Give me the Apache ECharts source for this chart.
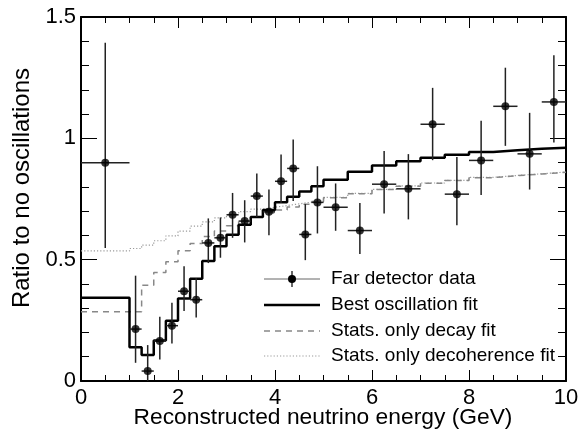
<!DOCTYPE html>
<html>
<head>
<meta charset="utf-8">
<script src="https://cdn.jsdelivr.net/npm/echarts@6/dist/echarts.min.js"></script>
<style>
html,body{margin:0;padding:0;background:#fff;}
#chart{width:578px;height:432px;}
</style>
</head>
<body>
<div id="chart"></div>
<script>
// ---- Far detector data (bin centers, bin edges, values, error bounds) ----
const dataX    = [0.5, 1.125, 1.375, 1.625, 1.875, 2.125, 2.375, 2.625, 2.875, 3.125, 3.375, 3.625, 3.875, 4.125, 4.375, 4.625, 4.875, 5.25, 5.75, 6.25, 6.75, 7.25, 7.75, 8.25, 8.75, 9.25, 9.75];
const dataXLo  = [0, 1, 1.25, 1.5, 1.75, 2, 2.25, 2.5, 2.75, 3, 3.25, 3.5, 3.75, 4, 4.25, 4.5, 4.75, 5, 5.5, 6, 6.5, 7, 7.5, 8, 8.5, 9, 9.5];
const dataXHi  = [1, 1.25, 1.5, 1.75, 2, 2.25, 2.5, 2.75, 3, 3.25, 3.5, 3.75, 4, 4.25, 4.5, 4.75, 5, 5.5, 6, 6.5, 7, 7.5, 8, 8.5, 9, 9.5, 10];
const dataY    = [0.899, 0.214, 0.041, 0.165, 0.228, 0.370, 0.335, 0.569, 0.590, 0.685, 0.659, 0.762, 0.697, 0.823, 0.876, 0.604, 0.736, 0.716, 0.620, 0.811, 0.792, 1.058, 0.770, 0.909, 1.132, 0.936, 1.150];
const dataYHi  = [1.394, 0.434, 0.148, 0.265, 0.322, 0.473, 0.423, 0.670, 0.674, 0.775, 0.745, 0.855, 0.789, 0.933, 0.995, 0.729, 0.885, 0.814, 0.734, 0.948, 0.935, 1.208, 0.923, 1.072, 1.291, 1.105, 1.342];
const dataYLo  = [0.548, 0.075, 0.0, 0.089, 0.155, 0.288, 0.262, 0.486, 0.508, 0.590, 0.571, 0.676, 0.601, 0.734, 0.742, 0.498, 0.608, 0.619, 0.523, 0.690, 0.666, 0.910, 0.642, 0.766, 0.969, 0.789, 0.983];

// ---- Fit histograms (left bin edges + last right edge) ----
const fitEdges   = [0, 1, 1.25, 1.5, 1.75, 2, 2.25, 2.5, 2.75, 3, 3.25, 3.5, 3.75, 4, 4.25, 4.5, 4.75, 5, 5.5, 6, 6.5, 7, 7.5, 8, 8.5, 9, 9.5, 10];
const bestFit    = [0.343, 0.139, 0.107, 0.167, 0.248, 0.340, 0.421, 0.494, 0.555, 0.603, 0.644, 0.676, 0.705, 0.737, 0.759, 0.781, 0.803, 0.829, 0.862, 0.888, 0.906, 0.920, 0.932, 0.944, 0.951, 0.957, 0.961];
const decayFit   = [0.285, 0.285, 0.395, 0.447, 0.491, 0.537, 0.567, 0.595, 0.618, 0.640, 0.660, 0.676, 0.692, 0.705, 0.717, 0.728, 0.740, 0.755, 0.772, 0.789, 0.803, 0.815, 0.826, 0.838, 0.846, 0.853, 0.860];
const decohFit   = [0.536, 0.546, 0.560, 0.578, 0.598, 0.618, 0.638, 0.656, 0.672, 0.686, 0.698, 0.708, 0.716, 0.723, 0.730, 0.737, 0.744, 0.757, 0.773, 0.790, 0.804, 0.816, 0.827, 0.839, 0.847, 0.854, 0.861];

// ---- Axis / text ----
const xTitle = 'Reconstructed neutrino energy (GeV)';
const yTitle = 'Ratio to no oscillations';
const legendNames = ['Far detector data', 'Best oscillation fit', 'Stats. only decay fit', 'Stats. only decoherence fit'];

function stepData(vals) {
  const d = vals.map((v, i) => [fitEdges[i], v]);
  d.push([fitEdges[fitEdges.length - 1], vals[vals.length - 1]]);
  return d;
}

const FONT = '"Liberation Sans", Arial, Helvetica, sans-serif';
const chart = echarts.init(document.getElementById('chart'));

const xCommon = {
  type: 'value', min: 0, max: 10, interval: 2,
  axisLine: { show: true, onZero: false, lineStyle: { color: '#000', width: 2 } },
  axisTick: { show: true, inside: true, length: 11, lineStyle: { color: '#000', width: 1 } },
  minorTick: { show: true, splitNumber: 4, length: 6, lineStyle: { color: '#000', width: 1 } },
  splitLine: { show: false }
};
const yCommon = {
  type: 'value', min: 0, max: 1.5, interval: 0.5,
  axisLine: { show: true, onZero: false, lineStyle: { color: '#000', width: 2 } },
  axisTick: { show: true, inside: true, length: 16, lineStyle: { color: '#000', width: 1 } },
  minorTick: { show: true, splitNumber: 5, length: 8, lineStyle: { color: '#000', width: 1 } },
  splitLine: { show: false }
};

const errData = dataX.map((x, i) => [x, dataY[i], dataYLo[i], dataYHi[i], dataXLo[i], dataXHi[i]]);

const legendRowsY = [279, 305, 331, 356];
const lx0 = 264, lx1 = 320, ltx = 331;
const graphics = [];
graphics.push({ type: 'line', shape: { x1: lx0, y1: legendRowsY[0], x2: lx1, y2: legendRowsY[0] }, style: { stroke: '#666', lineWidth: 1 } });
graphics.push({ type: 'line', shape: { x1: 292, y1: legendRowsY[0] - 8, x2: 292, y2: legendRowsY[0] + 8 }, style: { stroke: '#333', lineWidth: 1.5 } });
graphics.push({ type: 'circle', shape: { cx: 292, cy: legendRowsY[0], r: 4 }, style: { fill: '#000' } });
graphics.push({ type: 'line', shape: { x1: lx0, y1: legendRowsY[1], x2: lx1, y2: legendRowsY[1] }, style: { stroke: '#000', lineWidth: 2.5 } });
graphics.push({ type: 'line', shape: { x1: lx0, y1: legendRowsY[2], x2: lx1, y2: legendRowsY[2] }, style: { stroke: '#888', lineWidth: 1.5, lineDash: [6, 5] } });
graphics.push({ type: 'line', shape: { x1: lx0, y1: legendRowsY[3], x2: lx1, y2: legendRowsY[3] }, style: { stroke: '#999', lineWidth: 1.2, lineDash: [1.2, 2] } });
legendNames.forEach((n, i) => {
  graphics.push({ type: 'text', x: ltx, y: legendRowsY[i], style: { text: n, fill: '#000', font: '19px ' + FONT, verticalAlign: 'middle', align: 'left' } });
});
// axis titles
graphics.push({ type: 'text', x: 22, y: 188, rotation: Math.PI / 2, style: { text: yTitle, fill: '#000', font: '24px ' + FONT, align: 'center', verticalAlign: 'middle' } });
graphics.push({ type: 'text', x: 323, y: 418, style: { text: xTitle, fill: '#000', font: '22.8px ' + FONT, align: 'center', verticalAlign: 'middle' } });

chart.setOption({
  animation: false,
  backgroundColor: '#fff',
  textStyle: { fontFamily: FONT },
  grid: { left: 81, right: 12, top: 17, bottom: 51, containLabel: false, outerBoundsMode: 'none' },
  xAxis: [
    Object.assign({}, xCommon, {
      position: 'bottom',
      axisLabel: { show: true, color: '#000', fontSize: 22, fontFamily: FONT, margin: 6 }
    }),
    Object.assign({}, xCommon, { position: 'top', axisLabel: { show: false } })
  ],
  yAxis: [
    Object.assign({}, yCommon, {
      position: 'left',
      axisLabel: { show: true, color: '#000', fontSize: 22, fontFamily: FONT, margin: 5 }
    }),
    Object.assign({}, yCommon, { position: 'right', axisLabel: { show: false } })
  ],
  series: [
    {
      type: 'line', name: legendNames[3], step: 'end', showSymbol: false, silent: true,
      data: stepData(decohFit), lineStyle: { color: '#9a9a9a', width: 1.2, type: [1.2, 2] }, z: 2
    },
    {
      type: 'line', name: legendNames[2], step: 'end', showSymbol: false, silent: true,
      data: stepData(decayFit), lineStyle: { color: '#888', width: 1.5, type: [6, 5] }, z: 3
    },
    {
      type: 'line', name: legendNames[1], step: 'end', showSymbol: false, silent: true,
      data: stepData(bestFit), lineStyle: { color: '#000', width: 2.5 }, z: 4
    },
    {
      type: 'custom', name: legendNames[0] + ' errors', silent: true, z: 5,
      data: errData,
      renderItem: function (params, api) {
        const c = api.coord([api.value(0), api.value(1)]);
        const lo = api.coord([api.value(0), api.value(2)]);
        const hi = api.coord([api.value(0), api.value(3)]);
        const xl = api.coord([api.value(4), api.value(1)]);
        const xh = api.coord([api.value(5), api.value(1)]);
        return {
          type: 'group',
          children: [
            { type: 'line', shape: { x1: c[0], y1: lo[1], x2: c[0], y2: hi[1] }, style: { stroke: '#222', lineWidth: 1.5 } },
            { type: 'line', shape: { x1: xl[0], y1: c[1], x2: xh[0], y2: c[1] }, style: { stroke: '#222', lineWidth: 1.5 } }
          ]
        };
      }
    },
    {
      type: 'scatter', name: legendNames[0], silent: true, z: 6,
      data: dataX.map((x, i) => [x, dataY[i]]),
      symbol: 'circle', symbolSize: 8, itemStyle: { color: '#000' }
    }
  ],
  graphic: graphics
});
</script>
</body>
</html>
